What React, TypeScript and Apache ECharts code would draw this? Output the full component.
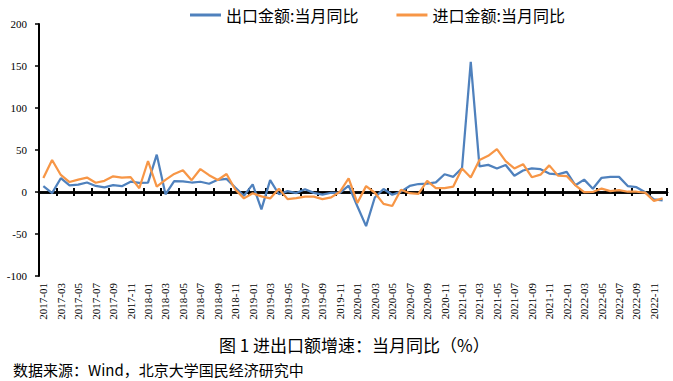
import React, { useEffect, useRef } from "react";
import * as echarts from "echarts";

const years = ["2017", "2018", "2019", "2020", "2021", "2022"];
const monthNums = ["01", "02", "03", "04", "05", "06", "07", "08", "09", "10", "11", "12"];
const categories: string[] = [];
years.forEach((y) => monthNums.forEach((m) => categories.push(`${y}-${m}`)));

const exportName = "出口金额:当月同比";
const importName = "进口金额:当月同比";

const exportYoY = [
  7, -1.3, 16.4, 8.0, 8.7, 11.3, 7.2, 5.5, 8.1, 6.9, 12.3, 10.9,
  11.1, 44.5, -2.7, 12.9, 12.6, 11.3, 12.2, 9.8, 14.5, 15.6, 5.4, -4.4,
  9.1, -20.7, 14.2, -2.7, 1.1, -1.3, 3.3, -1.0, -3.2, -0.9, -1.1, 7.6,
  -17, -40.6, -6.6, 3.5, -3.3, 0.5, 7.2, 9.5, 9.9, 11.4, 21.1, 18.1,
  28.6, 154.9, 30.6, 32.3, 27.9, 32.2, 19.3, 25.6, 28.1, 27.1, 22.0, 20.9,
  24, 8, 14.7, 3.9, 16.9, 17.9, 18.0, 7.1, 5.7, -0.3, -8.7, -9.9,
];

const importYoY = [
  16.7, 38.1, 20.3, 11.9, 14.8, 17.2, 11.0, 13.3, 18.7, 17.2, 17.7, 4.5,
  36.9, 6.3, 14.4, 21.5, 26.0, 14.1, 27.3, 20.0, 14.3, 21.4, 3.0, -7.6,
  -1.5, -5.2, -7.6, 4.0, -8.5, -7.3, -5.6, -5.6, -8.5, -6.4, 0.3, 16.3,
  -13, 7, -0.9, -14.2, -16.7, 2.7, -1.4, -2.1, 13.2, 4.7, 4.5, 6.5,
  28, 17.3, 38.1, 43.1, 51.1, 36.7, 28.1, 33.1, 17.6, 20.6, 31.7, 19.5,
  19, 8, -0.1, 0.0, 4.1, 1.0, 2.3, 0.3, 0.3, -0.7, -10.6, -7.5,
];

const captionText = "图 1 进出口额增速：当月同比（%）";
const sourceText = "数据来源：Wind，北京大学国民经济研究中";

const serif = "Liberation Serif, Times New Roman, serif";
const cjk = "Noto Sans CJK SC";

export default function App() {
  const ref = useRef<HTMLDivElement>(null);
  useEffect(() => {
    if (!ref.current) return;
    const chart = echarts.init(ref.current, null, { renderer: "svg" });
    const zeroAxisBase = {
      type: "category",
      data: categories,
      boundaryGap: true,
      axisLabel: { show: false },
      splitLine: { show: false },
    };
    chart.setOption({
      animation: false,
      backgroundColor: "#fff",
      legend: {
        top: 2,
        left: 185,
        icon: "rect",
        itemWidth: 31,
        itemHeight: 3,
        itemGap: 38,
        textStyle: { fontSize: 16, color: "#000", fontFamily: cjk },
        data: [exportName, importName],
      },
      grid: { left: 39, right: 6, top: 24, bottom: 105, containLabel: false },
      xAxis: [
        {
          type: "category",
          data: categories,
          position: "bottom",
          boundaryGap: true,
          axisLine: { show: false, onZero: false },
          axisTick: { show: false },
          axisLabel: {
            rotate: 90,
            interval: 1,
            fontSize: 11,
            fontFamily: serif,
            color: "#000",
            margin: 7,
          },
        },
        {
          ...zeroAxisBase,
          position: "bottom",
          axisLine: {
            show: true,
            onZero: true,
            onZeroAxisIndex: 0,
            lineStyle: { color: "#000", width: 2.5 },
          },
          axisTick: {
            show: true,
            interval: 1,
            length: 4,
            lineStyle: { color: "#000", width: 2 },
          },
        },
        {
          ...zeroAxisBase,
          position: "top",
          axisLine: {
            show: true,
            onZero: true,
            onZeroAxisIndex: 0,
            lineStyle: { color: "#000", width: 2.5 },
          },
          axisTick: {
            show: true,
            interval: 1,
            length: 4,
            lineStyle: { color: "#000", width: 2 },
          },
        },
      ],
      yAxis: {
        type: "value",
        min: -100,
        max: 200,
        interval: 50,
        axisLine: { show: true, lineStyle: { color: "#000", width: 2 } },
        axisTick: { show: true, length: 4, lineStyle: { color: "#000", width: 1.5 } },
        splitLine: { show: false },
        axisLabel: { fontSize: 11, fontFamily: serif, color: "#000", margin: 12 },
      },
      series: [
        {
          name: exportName,
          type: "line",
          xAxisIndex: 0,
          data: exportYoY,
          symbol: "none",
          lineStyle: { color: "#4F81BD", width: 2.25 },
          itemStyle: { color: "#4F81BD" },
        },
        {
          name: importName,
          type: "line",
          xAxisIndex: 0,
          data: importYoY,
          symbol: "none",
          lineStyle: { color: "#F79646", width: 2.25 },
          itemStyle: { color: "#F79646" },
        },
      ],
      graphic: [
        {
          type: "text",
          left: 219,
          top: 336,
          style: {
            text: captionText,
            fontSize: 17,
            fontFamily: cjk,
            fill: "#000",
          },
        },
        {
          type: "text",
          left: 13,
          top: 362,
          style: {
            text: sourceText,
            fontSize: 15,
            fontFamily: cjk,
            fill: "#000",
          },
        },
      ],
    });
    return () => chart.dispose();
  }, []);
  return (
    <div
      ref={ref}
      style={{ position: "absolute", left: 0, top: 0, width: 673, height: 381 }}
    />
  );
}
